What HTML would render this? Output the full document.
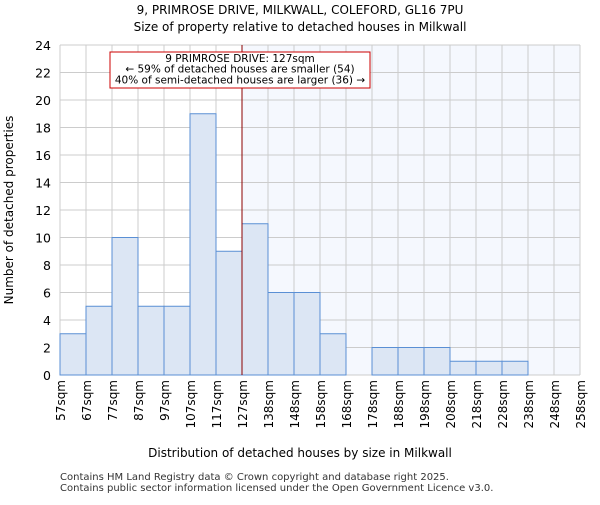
<!DOCTYPE html>
<html><head><meta charset="utf-8"><style>
body{margin:0;background:#fff;}
svg{font-family:"DejaVu Sans","Liberation Sans",sans-serif;}
</style></head><body>
<svg id="chart" width="600" height="500" xmlns="http://www.w3.org/2000/svg">
<text x="300" y="14" text-anchor="middle" font-size="12">9, PRIMROSE DRIVE, MILKWALL, COLEFORD, GL16 7PU</text>
<text x="300" y="31" text-anchor="middle" font-size="12">Size of property relative to detached houses in Milkwall</text>
<g id="plot"></g>
<text x="300" y="457" text-anchor="middle" font-size="12">Distribution of detached houses by size in Milkwall</text>
<text transform="translate(13,210) rotate(-90)" text-anchor="middle" font-size="12">Number of detached properties</text>
<text x="60" y="480" font-size="10" fill="#333">Contains HM Land Registry data © Crown copyright and database right 2025.</text>
<text x="60" y="491" font-size="10" fill="#333">Contains public sector information licensed under the Open Government Licence v3.0.</text>
</svg>
<script>
const categories=["57sqm","67sqm","77sqm","87sqm","97sqm","107sqm","117sqm","127sqm","138sqm","148sqm","158sqm","168sqm","178sqm","188sqm","198sqm","208sqm","218sqm","228sqm","238sqm","248sqm","258sqm"];
const counts=[3,5,10,5,5,19,9,11,6,6,3,0,2,2,2,1,1,1,0,0];
const yTicks=[0,2,4,6,8,10,12,14,16,18,20,22,24];
const markerIndex=7;
const NS="http://www.w3.org/2000/svg";
const L=60,R=580,T=45,B=375,yMax=24;
const n=counts.length,bw=(R-L)/n;
const x=i=>L+i*bw;
const y=v=>B-(v/yMax)*(B-T);
const g=document.getElementById('plot');
function mk(tag,attrs){const e=document.createElementNS(NS,tag);for(const k in attrs)e.setAttribute(k,attrs[k]);g.appendChild(e);return e;}
let e;
e=mk('rect',{x:x(markerIndex),y:T,width:R-x(markerIndex),height:B-T,fill:'#f5f8fe'});


for(let i=0;i<=n;i++){e=mk('line',{x1:x(i),x2:x(i),y1:T,y2:B,stroke:'#ccc','stroke-width':1});

}
yTicks.forEach(t=>{e=mk('line',{x1:L,x2:R,y1:y(t),y2:y(t),stroke:'#ccc','stroke-width':1});


e=mk('text',{x:L-9,y:y(t)+5,'text-anchor':'end','font-size':12.5});e.textContent=t;

});
counts.forEach((c,i)=>{if(c<=0)return;e=mk('rect',{x:x(i),y:y(c),width:bw,height:B-y(c),fill:'#dce6f4',stroke:'#5a8fd4','stroke-width':1});

});
categories.forEach((c,i)=>{e=mk('text',{transform:`translate(${x(i)+5},380) rotate(-90)`,'text-anchor':'end','font-size':12});e.textContent=c;

});
e=mk('line',{x1:x(markerIndex),x2:x(markerIndex),y1:T,y2:B,stroke:'#8b0000','stroke-width':1});


e=mk('rect',{x:110,y:52,width:260,height:36,fill:'#fff',stroke:'#c00','stroke-width':1});


["9 PRIMROSE DRIVE: 127sqm","← 59% of detached houses are smaller (54)","40% of semi-detached houses are larger (36) →"].forEach((t,k)=>{e=mk('text',{x:240,y:62+k*10.7,'text-anchor':'middle','font-size':10.5});e.textContent=t;

});
</script>
</body></html>
